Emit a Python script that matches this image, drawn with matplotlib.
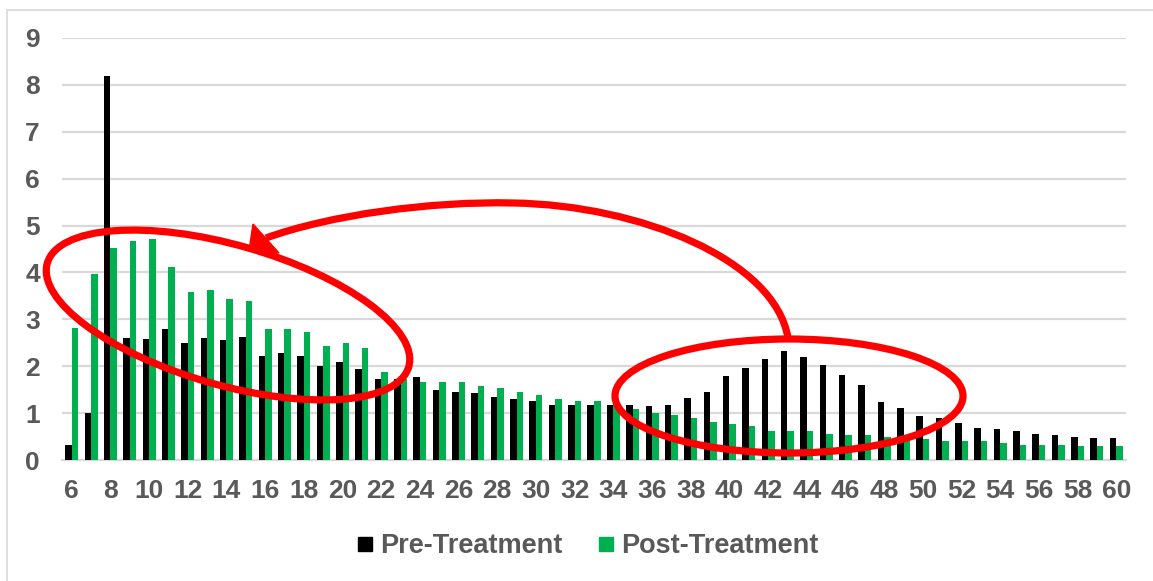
import matplotlib.pyplot as plt
import numpy as np
from matplotlib.patches import Ellipse, Polygon, PathPatch
from matplotlib.path import Path
from matplotlib.lines import Line2D
from matplotlib.transforms import Affine2D

plt.rcParams['font.family'] = ['Liberation Sans', 'DejaVu Sans']

# chart data
categories = list(range(6, 61))
pre_treatment = [0.32, 1.01, 8.19, 2.60, 2.57, 2.79, 2.50, 2.60, 2.55, 2.62,
                 2.21, 2.29, 2.21, 2.00, 2.09, 1.95, 1.73, 1.73, 1.76, 1.50,
                 1.45, 1.43, 1.35, 1.31, 1.26, 1.18, 1.18, 1.18, 1.18, 1.18,
                 1.16, 1.18, 1.33, 1.44, 1.79, 1.96, 2.15, 2.32, 2.20, 2.03,
                 1.81, 1.59, 1.23, 1.11, 0.94, 0.90, 0.78, 0.68, 0.66, 0.61,
                 0.56, 0.53, 0.49, 0.46, 0.46]
post_treatment = [2.82, 3.97, 4.52, 4.67, 4.72, 4.11, 3.58, 3.63, 3.44, 3.39,
                  2.79, 2.79, 2.72, 2.43, 2.50, 2.38, 1.88, 1.72, 1.66, 1.66,
                  1.66, 1.57, 1.54, 1.45, 1.38, 1.31, 1.26, 1.26, 1.20, 1.09,
                  1.01, 0.96, 0.89, 0.82, 0.77, 0.73, 0.62, 0.61, 0.61, 0.56,
                  0.53, 0.53, 0.49, 0.46, 0.44, 0.41, 0.41, 0.41, 0.36, 0.32,
                  0.32, 0.32, 0.29, 0.29, 0.29]
y_ticks = list(range(0, 10))

W, H = 1153, 581
fig = plt.figure(figsize=(W / 100, H / 100), dpi=100)
ax = fig.add_axes([62 / W, 1 - 460 / H, (1126 - 62) / W, (460 - 38) / H])

text_grey = '#595959'
grid_grey = '#D9D9D9'
bar_w = 0.336
x = np.arange(len(categories))

ax.bar(x - bar_w / 2, pre_treatment, bar_w, color='black', label='Pre-Treatment', zorder=3)
ax.bar(x + bar_w / 2, post_treatment, bar_w, color='#00B050', label='Post-Treatment', zorder=3)

ax.set_xlim(-0.5, len(categories) - 0.5)
ax.set_ylim(0, 9)
ax.set_yticks(y_ticks)
ax.set_xticks(x[::2])
ax.set_xticklabels([str(c) for c in categories[::2]])
ax.grid(axis='y', color=grid_grey, linewidth=1.6, zorder=0)
for side in ['top', 'right', 'left']:
    ax.spines[side].set_visible(False)
ax.spines['bottom'].set_color(grid_grey)
ax.spines['bottom'].set_linewidth(1.6)
ax.tick_params(axis='y', length=0, pad=16, labelsize=19, labelcolor=text_grey)
ax.tick_params(axis='x', length=0, pad=14, labelsize=19, labelcolor=text_grey)
for lbl in ax.get_xticklabels() + ax.get_yticklabels():
    lbl.set_fontweight('bold')

# legend
handles = [Line2D([], [], marker='s', linestyle='none', color='black', markersize=9.5),
           Line2D([], [], marker='s', linestyle='none', color='#00B050', markersize=9.5)]
leg = fig.legend(handles, ['Pre-Treatment', 'Post-Treatment'], loc='center',
                 bbox_to_anchor=(588 / W, 1 - 546 / H), ncol=2, frameon=False,
                 handlelength=0.55, handletextpad=0.3, columnspacing=1.3,
                 prop={'size': 19.5, 'weight': 'bold'})
for t in leg.get_texts():
    t.set_color(text_grey)

# annotations, drawn in pixel space (origin top-left)
px = Affine2D().scale(1 / W, -1 / H).translate(0, 1) + fig.transFigure
red = '#FF0000'

fig.add_artist(Ellipse((228, 315), 376, 140, angle=16, transform=px,
                       fill=False, edgecolor=red, linewidth=5.2, zorder=5))
fig.add_artist(Ellipse((789, 396), 348, 114, angle=0, transform=px,
                       fill=False, edgecolor=red, linewidth=5.2, zorder=5))

verts = [(788, 338), (775, 260), (640, 205), (513, 203),
         (430, 201), (330, 215), (266, 238)]
codes = [Path.MOVETO] + [Path.CURVE4] * 6
fig.add_artist(PathPatch(Path(verts, codes), transform=px, fill=False,
                         edgecolor=red, linewidth=5.2, capstyle='butt', zorder=5))
fig.add_artist(Polygon([(249, 251), (253, 224), (279, 253)], closed=True,
                       transform=px, facecolor=red, edgecolor=red, zorder=5))

# outer chart border (only top and left are inside the picture)
fig.add_artist(Line2D([7, W], [9.5, 9.5], transform=px, color=grid_grey, linewidth=1.2))
fig.add_artist(Line2D([7, 7], [9.5, H], transform=px, color=grid_grey, linewidth=1.2))

fig.savefig('out.png', dpi=100)
